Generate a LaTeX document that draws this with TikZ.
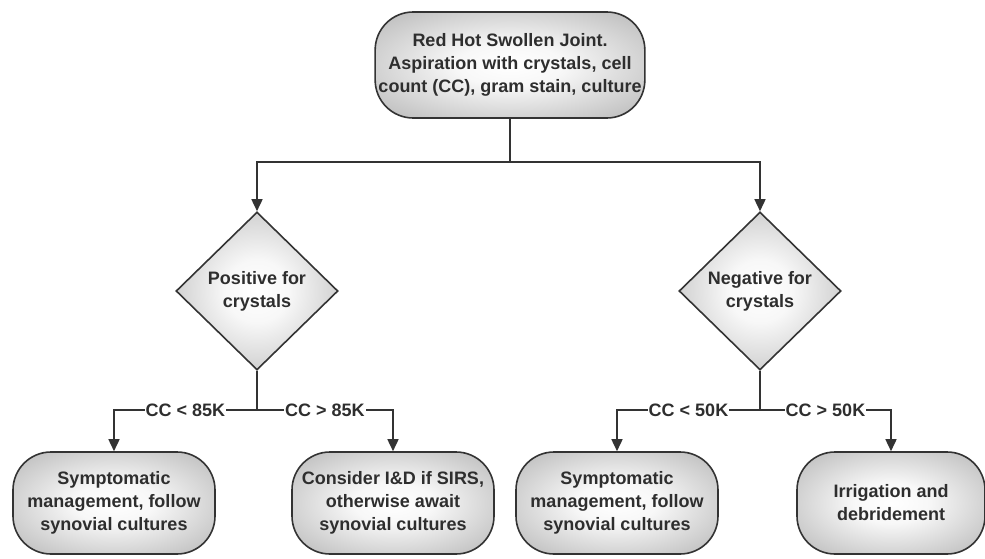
\documentclass[tikz,border=0pt]{standalone}
\usepackage{fontspec}
\setmainfont{Liberation Sans}
\usetikzlibrary{shapes.geometric,arrows.meta}
\definecolor{edgegray}{HTML}{333333}
\definecolor{textgray}{HTML}{2E2E2E}
\definecolor{shadegray}{HTML}{A0A0A0}
\pgfdeclareradialshading{softglow}{\pgfpointorigin}{color(0bp)=(white); color(10bp)=(white!97!black); color(45bp)=(shadegray); color(50bp)=(shadegray)}
\tikzset{
    flowbox/.style={rectangle,rounded corners=38pt,draw=edgegray,line width=1.6pt,
        shading=softglow,align=center,
        text=textgray,font=\bfseries\fontsize{18}{23}\selectfont},
    decision/.style={diamond,draw=edgegray,line width=1.6pt,inner sep=0pt,
        shading=softglow,align=center,
        minimum width=162pt,minimum height=158pt,
        text=textgray,font=\bfseries\fontsize{18}{23}\selectfont},
    link/.style={draw=edgegray,line width=1.6pt},
    arrowlink/.style={link,-{Triangle[width=11pt,length=12pt]}},
    cutoff/.style={fill=white,inner sep=1pt,text=textgray,
        font=\bfseries\fontsize{18}{20}\selectfont}
}
\begin{document}
\begin{tikzpicture}[x=1pt,y=1pt]
                \useasboundingbox (0,0) rectangle (985,558);
                \node[flowbox,minimum width=258pt,minimum height=106pt] (joint) at (510,493)
                    {Red Hot Swollen Joint.\\Aspiration with crystals, cell\\count (CC), gram stain, culture};
                \node[decision] (pos) at (257,267) {Positive for\\crystals};
                \node[decision] (neg) at (760,267) {Negative for\\crystals};
                \node[flowbox,minimum width=202pt,minimum height=102pt] (symA) at (114,55)
                    {Symptomatic\\management, follow\\synovial cultures};
                \node[flowbox,minimum width=202pt,minimum height=102pt] (incise) at (393,55)
                    {Consider I\&D if SIRS,\\otherwise await\\synovial cultures};
                \node[flowbox,minimum width=202pt,minimum height=102pt] (symB) at (617,55)
                    {Symptomatic\\management, follow\\synovial cultures};
                \node[flowbox,minimum width=188pt,minimum height=102pt] (irrig) at (891,55)
                    {Irrigation and\\debridement};
                \coordinate (split) at (510,396);
                \coordinate (posfork) at (257,148);
                \coordinate (negfork) at (760,148);
                \draw[link]
                    (joint.south) -- (split);
                \draw[arrowlink]
                    (split) -| (pos.north);
                \draw[arrowlink]
                    (split) -| (neg.north);
                \draw[link]
                    (pos.south) -- (posfork);
                \draw[arrowlink]
                    (posfork) -- node[cutoff] {CC < 85K} (posfork -| symA.north) -- (symA.north);
                \draw[arrowlink]
                    (posfork) -- node[cutoff] {CC > 85K} (posfork -| incise.north) -- (incise.north);
                \draw[link]
                    (neg.south) -- (negfork);
                \draw[arrowlink]
                    (negfork) -- node[cutoff] {CC < 50K} (negfork -| symB.north) -- (symB.north);
                \draw[arrowlink]
                    (negfork) -- node[cutoff] {CC > 50K} (negfork -| irrig.north) -- (irrig.north);
            \end{tikzpicture}
\end{document}
